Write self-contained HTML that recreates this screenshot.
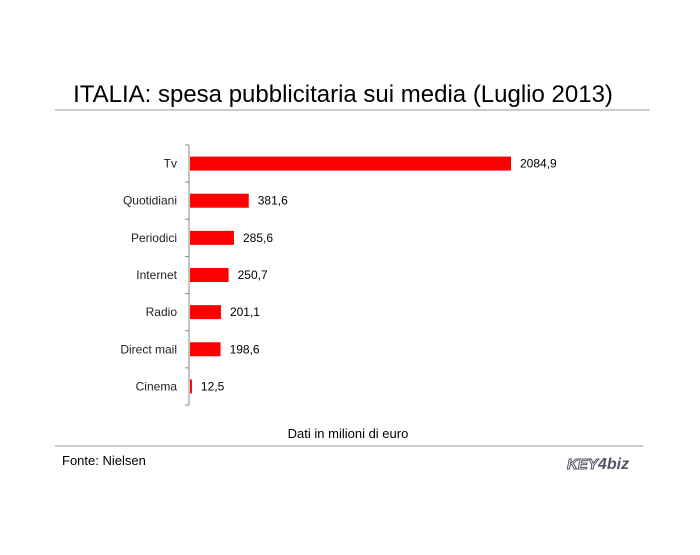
<!DOCTYPE html>
<html><head><meta charset="utf-8"><style>
body{margin:0;background:#fff;width:700px;height:550px;overflow:hidden;font-family:"Liberation Sans",sans-serif}
</style></head><body>
<svg width="700" height="550">
<text x="343" y="102" text-anchor="middle" font-size="24" fill="#000">ITALIA: spesa pubblicitaria sui media (Luglio 2013)</text>
<line x1="55" y1="110" x2="650" y2="110" stroke="#999"/>
<g id="plot"></g>
<text x="348" y="438" text-anchor="middle" font-size="13">Dati in milioni di euro</text>
<line x1="55" y1="446" x2="643" y2="446" stroke="#999"/>
<text x="62" y="465" font-size="13">Fonte: Nielsen</text>
<g><text x="567" y="469" font-size="15" font-weight="bold" fill="#fff" stroke="#556" stroke-width="1" font-style="italic">KEY</text><text x="598" y="469" font-size="16" font-weight="bold" fill="#556" font-style="italic">4biz</text></g>
</svg>
<script>
const categories=["Tv","Quotidiani","Periodici","Internet","Radio","Direct mail","Cinema"];
const values=[2084.9,381.6,285.6,250.7,201.1,198.6,12.5];
const labels=["2084,9","381,6","285,6","250,7","201,1","198,6","12,5"];
const ns="http://www.w3.org/2000/svg",g=document.getElementById('plot');
const x0=189,top0=145,bot=405,pitch=(bot-top0)/categories.length;
const xs=v=>x0+v*(321/2084.9);
function el(t,a){const e=document.createElementNS(ns,t);for(const k in a)e.setAttribute(k,a[k]);g.appendChild(e);return e;}
const ax=el('line',{x1:x0,y1:top0,x2:x0,y2:bot,stroke:'#888'});


for(let i=0;i<=categories.length;i++){const t=el('line',{x1:x0-4,y1:top0+i*pitch,x2:x0,y2:top0+i*pitch,stroke:'#888'});

}
categories.forEach((c,i)=>{const cy=top0+(i+0.5)*pitch;
const b=el('rect',{x:x0+1,y:cy-7,width:xs(values[i])-x0,height:14,fill:'#ff0000'});


const l=el('text',{x:177,y:cy+4,'text-anchor':'end','font-size':12,fill:'#222'});l.textContent=c;


const v=el('text',{x:xs(values[i])+10,y:cy+4,'font-size':12,fill:'#000'});v.textContent=labels[i];

});
</script>
</body></html>
